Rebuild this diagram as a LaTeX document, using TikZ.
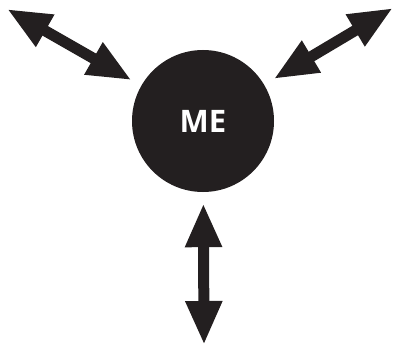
\documentclass[tikz,border=0pt]{standalone}
\usepackage{fontspec}
\setmainfont{Open Sans}
\usetikzlibrary{arrows.meta}
\definecolor{ink}{HTML}{231F20}
\tikzset{
    twoway/.style={draw=ink,line width=11pt,{Triangle[length=44pt,width=34pt]}-{Triangle[length=44pt,width=34pt]},shorten >=11pt}
}
\begin{document}
\begin{tikzpicture}[x=1pt,y=-1pt]
        \useasboundingbox (0,0) rectangle (393,350);
        \node[circle,fill=ink,minimum size=142pt,inner sep=0pt,text=white,font=\bfseries\fontsize{31}{33}\selectfont] (me) at (203,121) {ME};
        \coordinate (ul) at (7,9);
        \coordinate (ur) at (393,8);
        \coordinate (dn) at (204,345);

        \draw [twoway] (ul) -- (me);
        \draw [twoway] (ur) -- (me);
        \draw [twoway] (dn) -- (me);
    \end{tikzpicture}
\end{document}
